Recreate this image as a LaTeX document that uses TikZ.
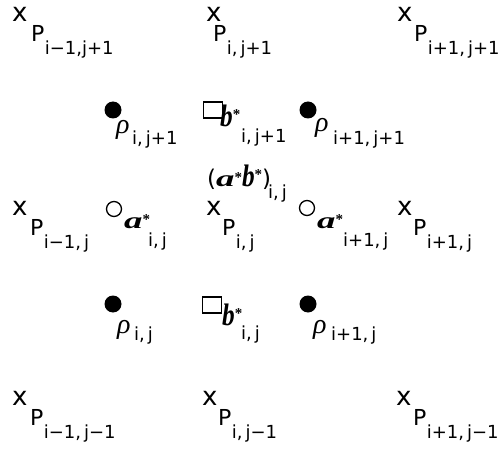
\documentclass[tikz,border=0pt]{standalone}
\usepackage{fontspec}
\usepackage{graphicx}
\setmainfont{DejaVu Sans}
\newfontfamily\scrfont{Liberation Serif}
\newfontfamily\subfont{DejaVu Sans}
\newcommand\scra{{\scrfont\bfseries\itshape\scalebox{1.6}[1]{a}}}
\newcommand\scrb{{\scrfont\bfseries\itshape\scalebox{1.1}[1.35]{b}}}
\newcommand\st{\raisebox{3pt}{{\scrfont\bfseries\fontsize{15}{15}\selectfont *}}}
\newcommand\stb{\raisebox{7pt}{{\scrfont\bfseries\fontsize{15}{15}\selectfont *}}}
\tikzset{
  lbl/.style={inner sep=0, anchor=base west, font=\fontsize{22}{22}\selectfont},
  xlbl/.style={inner sep=0, anchor=base west, font=\fontsize{26}{26}\selectfont},
  sublbl/.style={inner sep=0, anchor=base west, font=\subfont\fontsize{18}{18}\selectfont},
  greek/.style={inner sep=0, anchor=base west, font=\scrfont\itshape\fontsize{28}{28}\selectfont},
  scr/.style={inner sep=0, anchor=base west, font=\fontsize{23}{23}\selectfont},
  fdot/.style={circle, fill=black, inner sep=0, minimum size=17pt},
  ring/.style={circle, draw=black, line width=1.3pt, inner sep=0, minimum size=15pt},
  sq/.style={rectangle, draw=black, line width=1.3pt, inner sep=0, minimum width=19pt, minimum height=16pt}
}
\newcommand\gridpt[5]{%
  \node[xlbl] (#1) at (#2,#3) {x};
  \node[lbl] (#1P) at (#2+#4,#3+20) {P};
  \node[sublbl] (#1S) at ([yshift=-13pt]#1P.base east) {#5};}
\begin{document}
\begin{tikzpicture}[x=1pt,y=-1pt]
\useasboundingbox (0,0) rectangle (503,449);
% grid points x P
\gridpt{ptl}{12}{22}{19}{i−1,j+1}
\gridpt{ptm}{206}{22}{7}{i,\,j+1}
\gridpt{ptr}{397}{22}{17}{i+1,\,j+1}
\gridpt{pml}{12}{215}{18}{i−1,\,j}
\gridpt{pmm}{206}{215}{16}{i,\,j}
\gridpt{pmr}{397}{215}{16}{i+1,\,j}
\gridpt{pbl}{12}{405}{18}{i−1,\,j−1}
\gridpt{pbm}{202}{405}{16}{i,\,j−1}
\gridpt{pbr}{396}{405}{17}{i+1,\,j−1}
% filled dots rho
\node[fdot] (d1) at (113,110) {};
\node[fdot] (d2) at (308,110) {};
\node[fdot] (d3) at (113,304) {};
\node[fdot] (d4) at (308,304) {};
\node[greek] (r1) at (116,134) {ρ};
\node[sublbl] (r1s) at (132,145) {i,\,j+1};
\node[greek] (r2) at (315,132) {ρ};
\node[sublbl] (r2s) at (333,145) {i+1,\,j+1};
\node[greek] (r3) at (117,333) {ρ};
\node[sublbl] (r3s) at (134,340) {i,\,j};
\node[greek] (r4) at (313,333) {ρ};
\node[sublbl] (r4s) at (331,340) {i+1,\,j};
% squares b*
\node[sq] (q1) at (213,110) {};
\node[sq] (q2) at (212,305) {};
\node[scr] (b1) at (220,127) {\scrb\stb};
\node[sublbl] (b1s) at (241,143) {i,\,j+1};
\node[scr] (b2) at (222,325) {\scrb\stb};
\node[sublbl] (b2s) at (241,339) {i,\,j};
% rings a*
\node[ring] (c1) at (114,209) {};
\node[ring] (c2) at (307,208) {};
\node[scr] (a1) at (124,228) {\scra\st};
\node[sublbl] (a1s) at (148,246) {i,\,j};
\node[scr] (a2) at (317,228) {\scra\st};
\node[sublbl] (a2s) at (343,246) {i+1,\,j};
% (a*b*)
\node[scr] (ab) at (207,186) {(\scra\st\scrb\stb)};
\node[sublbl] (abs) at (268,198) {i,\,j};
\end{tikzpicture}
\end{document}
